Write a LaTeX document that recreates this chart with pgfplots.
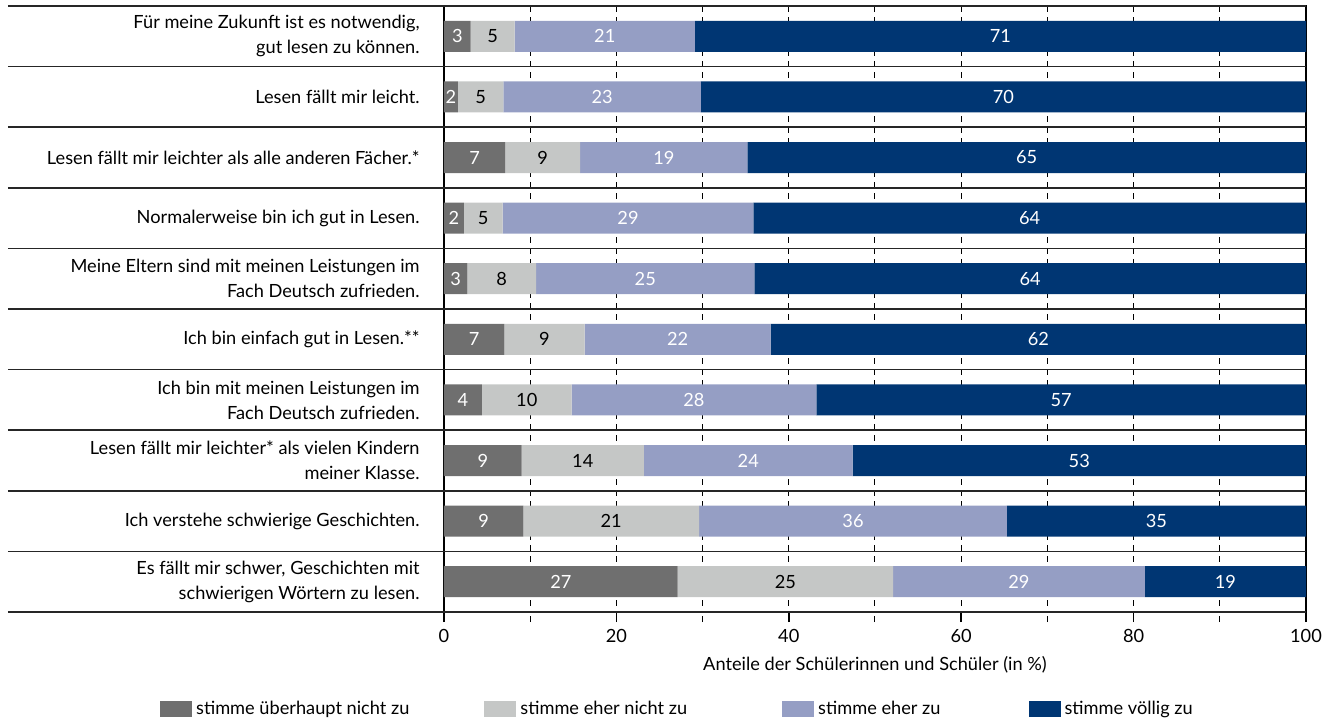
\documentclass[border=0pt]{standalone}
\usepackage{pgfplots}
\pgfplotsset{compat=1.18}
\usepackage{fontspec}
\setmainfont{Lato}
\definecolor{c1}{HTML}{6F6F6F}
\definecolor{c2}{HTML}{C5C7C6}
\definecolor{c3}{HTML}{959EC4}
\definecolor{c4}{HTML}{003673}
\pgfplotsset{
  common/.style={at={(222pt,53.5pt)}, anchor=south west,
    scale only axis, width=431pt, height=303pt,
    xmin=0, xmax=100, ymin=-0.5, ymax=9.5, y dir=reverse,
    clip=false, font=\fontsize{9.1}{12.5}\selectfont},
}
\begin{document}
\begin{tikzpicture}
\useasboundingbox (0,0) rectangle (665pt,359.5pt);
\begin{axis}[
  common,
  xbar stacked, bar width=15.5pt,
  /pgf/number format/assume math mode=true,
  xtick={0,20,...,100}, minor x tick num=1,
  xtick pos=left, ytick pos=left,
  tick align=outside, major tick length=5pt, minor tick length=5pt,
  xtick style={black, line width=0.75pt},
  minor x tick style={black, line width=0.5pt, dash pattern=on 3pt off 2.5pt},
  xmajorgrids, xminorgrids,
  major grid style={black, line width=0.5pt, dash pattern=on 3pt off 2.5pt},
  minor grid style={black, line width=0.5pt, dash pattern=on 3pt off 2.5pt},
  axis line style={black, line width=0.75pt},
  ytick={0,...,9}, ytick style={draw=none},
  yticklabel style={align=right, inner sep=0pt, xshift=-7pt},
  yticklabels={{Für meine Zukunft ist es notwendig,\\gut lesen zu können.},
    {Lesen fällt mir leicht.},
    {Lesen fällt mir leichter als alle anderen Fächer.*},
    {Normalerweise bin ich gut in Lesen.},
    {Meine Eltern sind mit meinen Leistungen im\\Fach Deutsch zufrieden.},
    {Ich bin einfach gut in Lesen.**},
    {Ich bin mit meinen Leistungen im\\Fach Deutsch zufrieden.},
    {Lesen fällt mir leichter* als vielen Kindern\\meiner Klasse.},
    {Ich verstehe schwierige Geschichten.},
    {Es fällt mir schwer, Geschichten mit\\schwierigen Wörtern zu lesen.}},
  xlabel={Anteile der Schülerinnen und Schüler (in \%)},
  legend columns=4,
  legend style={at={(0.272,-0.16)}, anchor=center, draw=none, fill=none,
    /tikz/column 2/.style={column sep=35.5pt},
    /tikz/column 4/.style={column sep=45.5pt},
    /tikz/column 6/.style={column sep=42pt}},
  legend image code/.code={\fill[#1] (0pt,-4pt) rectangle (16pt,4pt);},
]
\addplot[fill=c1, draw=none] coordinates {
 (3.1,0) (1.6,1) (7.1,2) (2.3,3) (2.7,4)
 (7.0,5) (4.4,6) (9.0,7) (9.2,8) (27.1,9)};
\addlegendentry{stimme überhaupt nicht zu}
\addplot[fill=c2, draw=none] coordinates {
 (5.1,0) (5.3,1) (8.7,2) (4.5,3) (8.0,4)
 (9.3,5) (10.4,6) (14.2,7) (20.4,8) (25.0,9)};
\addlegendentry{stimme eher nicht zu}
\addplot[fill=c3, draw=none] coordinates {
 (20.9,0) (22.9,1) (19.4,2) (29.1,3) (25.3,4)
 (21.6,5) (28.4,6) (24.2,7) (35.7,8) (29.2,9)};
\addlegendentry{stimme eher zu}
\addplot[fill=c4, draw=none] coordinates {
 (70.9,0) (70.2,1) (64.8,2) (64.1,3) (64.0,4)
 (62.1,5) (56.8,6) (52.6,7) (34.7,8) (18.7,9)};
\addlegendentry{stimme völlig zu}
\pgfplotsinvokeforeach{-0.5,0.5,1.5,2.5,3.5,4.5,5.5,6.5,7.5,8.5,9.5}{
  \draw[black!85, line width=0.75pt] ([xshift=-218pt]axis cs:0,#1) -- (axis cs:100,#1);
}
\end{axis}
% value labels, centred in each segment
\begin{axis}[
  common, hide axis,
  point meta=explicit symbolic,
  nodes near coords,
  every node near coord/.append style={anchor=center},
]
\addplot[draw=none, mark=none, nodes near coords style={text=white}] coordinates {
 (1.55,0) [3] (0.8,1) [2] (3.55,2) [7] (1.15,3) [2] (1.35,4) [3]
 (3.5,5) [7] (2.2,6) [4] (4.5,7) [9] (4.6,8) [9] (13.55,9) [27]};
\addplot[draw=none, mark=none, nodes near coords style={text=black}] coordinates {
 (5.65,0) [5] (4.25,1) [5] (11.45,2) [9] (4.55,3) [5] (6.7,4) [8]
 (11.65,5) [9] (9.6,6) [10] (16.1,7) [14] (19.4,8) [21] (39.6,9) [25]};
\addplot[draw=none, mark=none, nodes near coords style={text=white}] coordinates {
 (18.65,0) [21] (18.35,1) [23] (25.5,2) [19] (21.35,3) [29] (23.35,4) [25]
 (27.1,5) [22] (29.0,6) [28] (35.3,7) [24] (47.45,8) [36] (66.7,9) [29]};
\addplot[draw=none, mark=none, nodes near coords style={text=white}] coordinates {
 (64.55,0) [71] (64.9,1) [70] (67.6,2) [65] (67.95,3) [64] (68.0,4) [64]
 (68.95,5) [62] (71.6,6) [57] (73.7,7) [53] (82.65,8) [35] (90.65,9) [19]};
\end{axis}
\end{tikzpicture}
\end{document}
